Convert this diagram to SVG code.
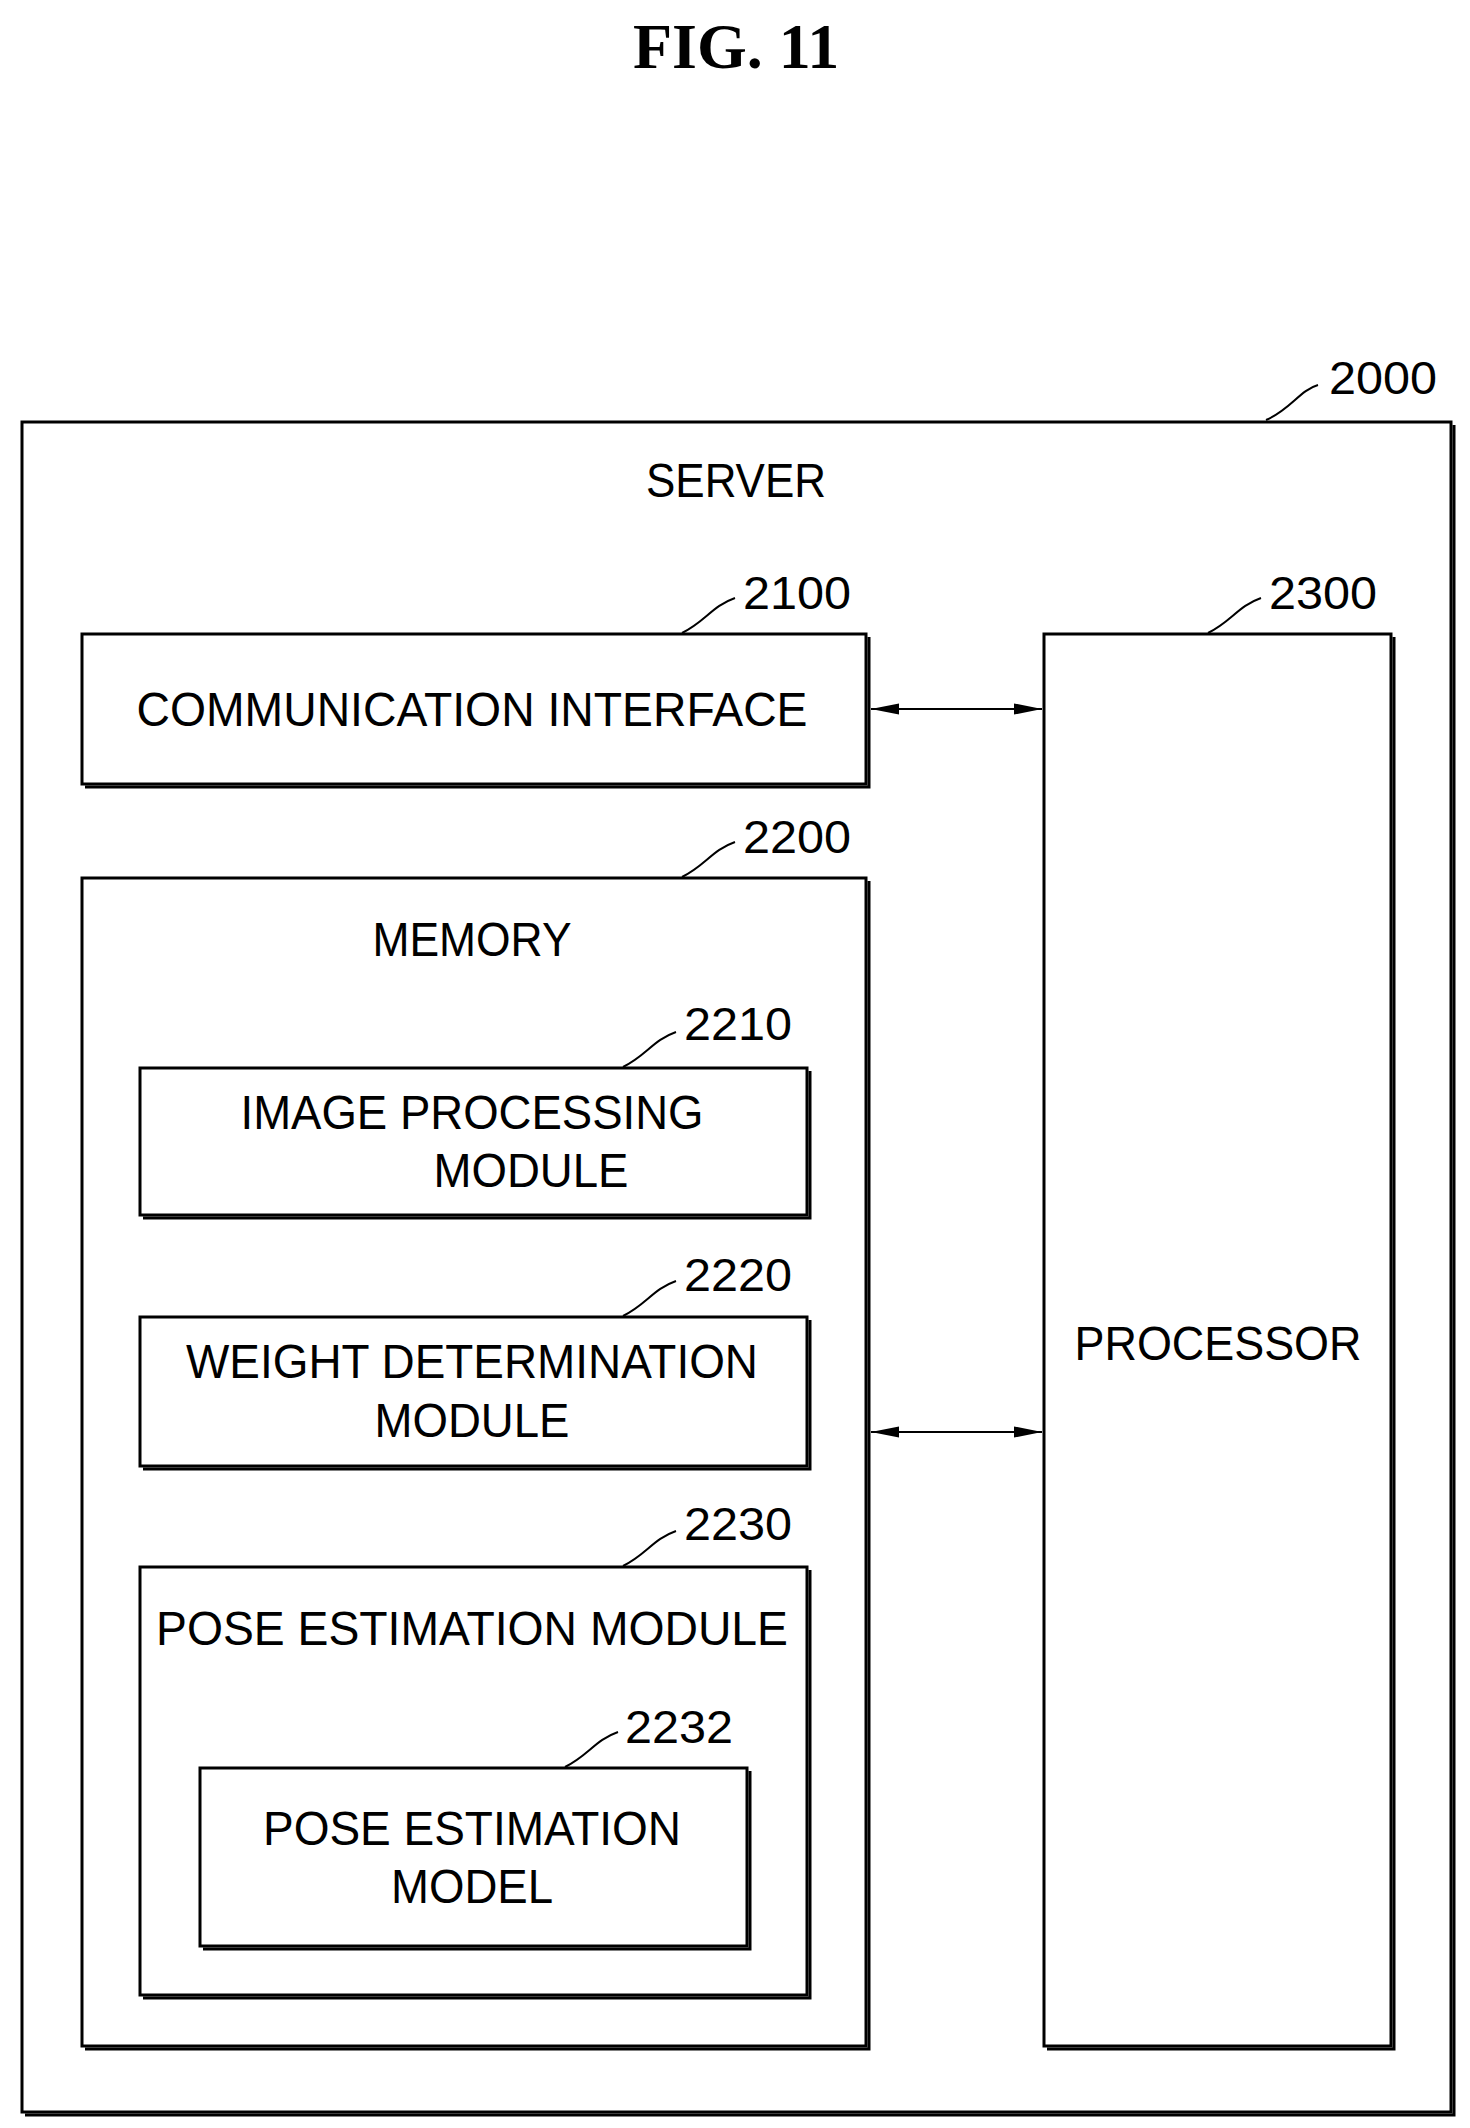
<svg xmlns="http://www.w3.org/2000/svg" width="1470" height="2128" viewBox="0 0 1470 2128">
<style>
.b{fill:none;stroke:#000;stroke-width:3}
.s{fill:none;stroke:#000;stroke-width:3}
.t{font-family:"Liberation Sans",Arial,sans-serif;font-size:48px;text-anchor:middle;fill:#000}
.n{font-family:"Liberation Sans",Arial,sans-serif;font-size:46px;fill:#000}
.l{fill:none;stroke:#000;stroke-width:2}
</style>
<defs>
<marker id="a" viewBox="0 0 10 10" refX="10" refY="5" markerWidth="10" markerHeight="10" orient="auto-start-reverse" markerUnits="userSpaceOnUse"><path d="M0,1 L10,5 L0,9 z"/></marker>
<marker id="ab" viewBox="0 0 10 10" refX="10" refY="5" markerWidth="28" markerHeight="14" orient="auto-start-reverse" markerUnits="userSpaceOnUse" preserveAspectRatio="none"><path d="M0,1 L10,5 L0,9 z"/></marker>
</defs>
<text x="736" y="68" font-family="Liberation Serif,serif" font-weight="bold" font-size="64" text-anchor="middle">FIG.  11</text>
<g id="n2000">
<rect class="b" x="22" y="422" width="1429" height="1690"/>
<polyline class="s" points="1454,425 1454,2115 25,2115"/>
<text class="t" x="736" y="497" textLength="180" lengthAdjust="spacingAndGlyphs">SERVER</text>
<path class="l" d="M1266,420 C1290,410 1300,390 1318,385"/>
<text class="n" x="1329" y="394" textLength="108" lengthAdjust="spacingAndGlyphs">2000</text>
</g>
<g id="n2100">
<rect class="b" x="82" y="634" width="784" height="150"/>
<polyline class="s" points="869,637 869,787 85,787"/>
<text class="t" x="472" y="726" textLength="671" lengthAdjust="spacingAndGlyphs">COMMUNICATION INTERFACE</text>
<path class="l" d="M682,633 C705,622 712,606 735,598"/>
<text class="n" x="743" y="609" textLength="108" lengthAdjust="spacingAndGlyphs">2100</text>
</g>
<g id="n2300">
<rect class="b" x="1044" y="634" width="347" height="1412"/>
<polyline class="s" points="1394,637 1394,2049 1047,2049"/>
<text class="t" x="1218" y="1360" textLength="287" lengthAdjust="spacingAndGlyphs">PROCESSOR</text>
<path class="l" d="M1208,633 C1231,622 1238,606 1261,598"/>
<text class="n" x="1269" y="609" textLength="108" lengthAdjust="spacingAndGlyphs">2300</text>
</g>
<g id="n2200">
<rect class="b" x="82" y="878" width="784" height="1168"/>
<polyline class="s" points="869,881 869,2049 85,2049"/>
<text class="t" x="472" y="956" textLength="199" lengthAdjust="spacingAndGlyphs">MEMORY</text>
<path class="l" d="M682,877 C705,866 712,850 735,842"/>
<text class="n" x="743" y="853" textLength="108" lengthAdjust="spacingAndGlyphs">2200</text>
</g>
<g id="n2210">
<rect class="b" x="140" y="1068" width="667" height="147"/>
<polyline class="s" points="810,1071 810,1218 143,1218"/>
<text class="t" x="472" y="1129" textLength="463" lengthAdjust="spacingAndGlyphs">IMAGE PROCESSING</text>
<text class="t" x="531" y="1187" textLength="195" lengthAdjust="spacingAndGlyphs">MODULE</text>
<path class="l" d="M623,1067 C646,1056 653,1040 676,1032"/>
<text class="n" x="684" y="1040" textLength="108" lengthAdjust="spacingAndGlyphs">2210</text>
</g>
<g id="n2220">
<rect class="b" x="140" y="1317" width="667" height="149"/>
<polyline class="s" points="810,1320 810,1469 143,1469"/>
<text class="t" x="472" y="1378" textLength="572" lengthAdjust="spacingAndGlyphs">WEIGHT DETERMINATION</text>
<text class="t" x="472" y="1437" textLength="195" lengthAdjust="spacingAndGlyphs">MODULE</text>
<path class="l" d="M623,1316 C646,1305 653,1289 676,1281"/>
<text class="n" x="684" y="1291" textLength="108" lengthAdjust="spacingAndGlyphs">2220</text>
</g>
<g id="n2230">
<rect class="b" x="140" y="1567" width="667" height="428"/>
<polyline class="s" points="810,1570 810,1998 143,1998"/>
<text class="t" x="472" y="1645" textLength="632" lengthAdjust="spacingAndGlyphs">POSE ESTIMATION MODULE</text>
<path class="l" d="M623,1566 C646,1555 653,1539 676,1531"/>
<text class="n" x="684" y="1540" textLength="108" lengthAdjust="spacingAndGlyphs">2230</text>
</g>
<g id="n2232">
<rect class="b" x="200" y="1768" width="547" height="178"/>
<polyline class="s" points="750,1771 750,1949 203,1949"/>
<text class="t" x="472" y="1845" textLength="418" lengthAdjust="spacingAndGlyphs">POSE ESTIMATION</text>
<text class="t" x="472" y="1903" textLength="162" lengthAdjust="spacingAndGlyphs">MODEL</text>
<path class="l" d="M565,1767 C588,1756 595,1740 618,1732"/>
<text class="n" x="625" y="1743" textLength="108" lengthAdjust="spacingAndGlyphs">2232</text>
</g>
<g id="connectors">
<line x1="871" y1="709" x2="1042" y2="709" stroke="#000" stroke-width="2" marker-start="url(#ab)" marker-end="url(#ab)"/>
<line x1="871" y1="1432" x2="1042" y2="1432" stroke="#000" stroke-width="2" marker-start="url(#ab)" marker-end="url(#ab)"/>
</g>
</svg>
